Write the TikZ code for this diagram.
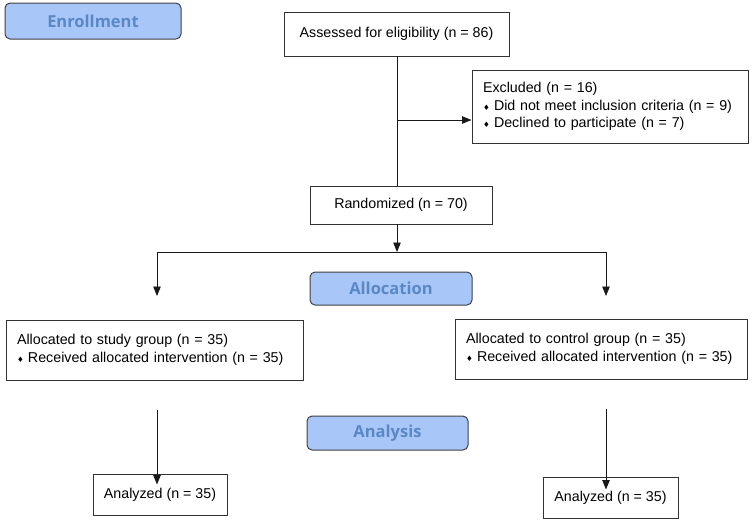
\documentclass[tikz,border=0pt]{standalone}
\usepackage{fontspec}
\setmainfont{Liberation Sans}
\newfontfamily\headfont{Open Sans}
\newfontfamily\symfont{DejaVu Sans}
\usetikzlibrary{arrows.meta}
\definecolor{headfill}{HTML}{A8C6F8}
\definecolor{headtext}{HTML}{5A88C6}
\newcommand{\bul}{{\symfont\fontsize{7.5}{7}\selectfont ♦}\hspace{0.3em}}
\begin{document}
\begin{tikzpicture}[x=1pt, y=-1pt, >={Triangle[length=9.5pt,width=7.5pt]},
	every node/.style={font=\fontsize{14.25}{17.5}\selectfont},
	flowbox/.style={draw=black!80, line width=1pt, rectangle, inner sep=0pt},
	listbox/.style={flowbox, align=left, inner xsep=11pt},
	headbox/.style={draw=black!75, line width=1pt, rounded corners=5pt, fill=headfill, text=headtext, inner sep=0pt, font=\headfont\bfseries\fontsize{16.5}{18}\selectfont},
	link/.style={line width=0.9pt, black!90}]
	\useasboundingbox (0,0) rectangle (754,523);
	% Các nhãn giai đoạn
	\node[headbox, minimum width=176pt, minimum height=36pt] (enroll) at (93,21) {Enrollment};
	\node[headbox, minimum width=162pt, minimum height=33pt] (alloc) at (391,288.5) {Allocation};
	\node[headbox, minimum width=161pt, minimum height=34pt] (analysis) at (387.5,433) {Analysis};
	% Các hộp chính
	\node[flowbox, minimum width=225pt, minimum height=44pt] (assess) at (396.5,34) {Assessed for eligibility (n = 86)};
	\node[listbox, text width=254pt, minimum height=73pt] (excl) at (610,106.5) {Excluded (n = 16)\\\bul Did not meet inclusion criteria (n = 9)\\\bul Declined to participate (n = 7)};
	\node[flowbox, minimum width=182pt, minimum height=38pt] (rand) at (401,205) {Randomized (n = 70)};
	\node[listbox, text width=275pt, minimum height=60pt] (study) at (154.5,350) {Allocated to study group (n = 35)\\\bul Received allocated intervention (n = 35)};
	\node[listbox, text width=270pt, minimum height=60pt] (ctrl) at (601,349) {Allocated to control group (n = 35)\\\bul Received allocated intervention (n = 35)};
	\node[flowbox, minimum width=134pt, minimum height=41pt] (anaL) at (160,494.5) {Analyzed (n = 35)};
	\node[flowbox, minimum width=135pt, minimum height=41pt] (anaR) at (610.5,497.5) {Analyzed (n = 35)};
	% Các điểm nối
	\path
	(397,56) coordinate (A1)
	(397,120) coordinate (E1)
	(397,186) coordinate (A2)
	(397,224) coordinate (R1)
	(397,252) coordinate (R2)
	(157,252) coordinate (SL)
	(606,252) coordinate (SR)
	(157,296) coordinate (SL2)
	(606,296) coordinate (SR2)
	(157,410) coordinate (AL)
	(606,409) coordinate (AR)
	;
	% Vẽ các đường nối
	\draw[link] (A1) -- (A2);
	\draw[link, ->] (E1) -- (excl.west |- E1);
	\draw[link, ->] (R1) -- (R2);
	\draw[link] (SL) -- (SR);
	\draw[link, ->] (SL) -- (SL2);
	\draw[link, ->] (SR) -- (SR2);
	\draw[link, ->] (AL) -- ([yshift=-11pt]anaL.north -| AL);
	\draw[link, ->] (AR) -- ([yshift=-13pt]anaR.north -| AR);
\end{tikzpicture}
\end{document}
